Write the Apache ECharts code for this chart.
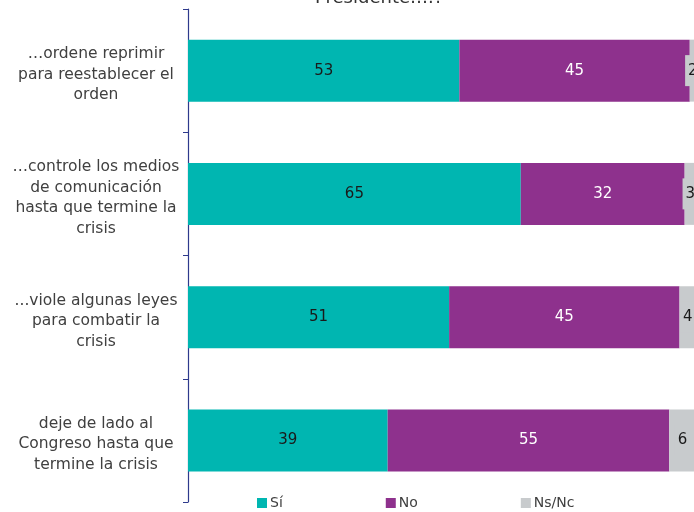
<!DOCTYPE html>
<html>
<head>
<meta charset="utf-8">
<script src="https://cdn.jsdelivr.net/npm/echarts@6/dist/echarts.min.js"></script>
<style>
  html, body { margin: 0; padding: 0; background: #fff; }
  #chart { width: 694px; height: 512px; }
</style>
</head>
<body>
<div id="chart"></div>
<script>
// Survey answers: share of respondents per statement
const categories = [
  '…ordene reprimir\npara reestablecer el\norden',
  '…controle los medios\nde comunicación\nhasta que termine la\ncrisis',
  '...viole algunas leyes\npara combatir la\ncrisis',
  'deje de lado al\nCongreso hasta que\ntermine la crisis'
];
const seriesNames = ['Sí', 'No', 'Ns/Nc'];
const siValues = [53, 65, 51, 39];
const noValues = [45, 32, 45, 55];
const nsValues = [2, 3, 4, 6];

const FONT = '"DejaVu Sans", sans-serif';
const colors = ['#00B6B1', '#8E318D', '#C8CBCD'];
const labelColors = ['#1a1a1a', '#ffffff', '#1a1a1a'];

const chart = echarts.init(document.getElementById('chart'));

function barSeries(name, data, idx) {
  const label = {
    show: true,
    position: 'inside',
    color: labelColors[idx],
    fontFamily: FONT,
    fontSize: 15
  };
  // the narrow "Ns/Nc" slices get a filled label box so the digit stays readable
  if (idx === 2) {
    label.backgroundColor = colors[2];
    label.padding = [8, 3];
    label.offset = [-2, 0];
  }
  return {
    name: name,
    type: 'bar',
    stack: 'total',
    data: data,
    barWidth: 62,
    itemStyle: { color: colors[idx] },
    label: label,
    emphasis: { disabled: true }
  };
}

chart.setOption({
  animation: false,
  title: {
    text: 'Presidente….?',
    left: 310,
    top: -16,
    textStyle: { fontFamily: FONT, fontSize: 18, fontWeight: 'normal', color: '#333' }
  },
  legend: {
    data: seriesNames,
    left: 257,
    top: 496,
    padding: 0,
    icon: 'rect',
    itemWidth: 10,
    itemHeight: 10,
    itemGap: 103,
    textStyle: { fontFamily: FONT, fontSize: 14, color: '#404040', padding: [0, 0, 0, -2] }
  },
  grid: { left: 188, top: 9, width: 512, height: 493, containLabel: false, outerBoundsMode: 'none' },
  xAxis: {
    type: 'value',
    min: 0,
    max: 100,
    show: false
  },
  yAxis: {
    type: 'category',
    inverse: true,
    data: categories,
    axisLine: { show: true, lineStyle: { color: '#2E3A8C', width: 1.2 } },
    axisTick: { show: true, length: 5, lineStyle: { color: '#2E3A8C' } },
    axisLabel: {
      margin: 92,
      align: 'center',
      fontFamily: FONT,
      fontSize: 15.5,
      lineHeight: 20.5,
      color: '#404040',
      // a thin spacer line nudges each text block slightly below its bar's centre
      formatter: (v) => '{s| }\n' + v,
      rich: { s: { fontSize: 1, lineHeight: 8 } }
    }
  },
  series: [
    barSeries(seriesNames[0], siValues, 0),
    barSeries(seriesNames[1], noValues, 1),
    barSeries(seriesNames[2], nsValues, 2)
  ]
});
</script>
</body>
</html>
